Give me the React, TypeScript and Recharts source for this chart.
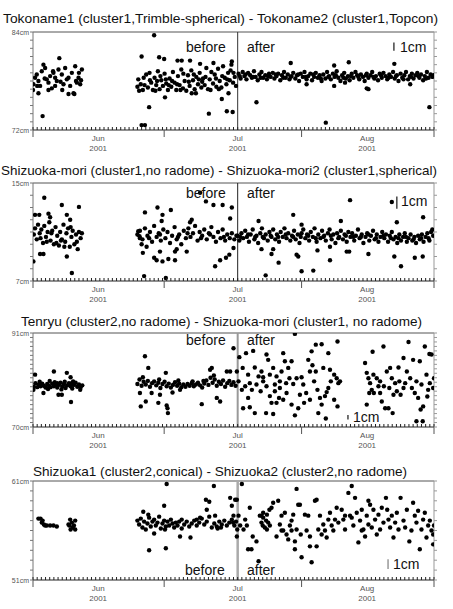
import { ReferenceLine, Scatter, ScatterChart, XAxis, YAxis } from "recharts";

type Pt = [number, number];

// x = days from the left edge of the plot, y = baseline length in cm
const MONTH_LABELS = ["Jun", "Jul", "Aug"];
const MONTH_POS = [15.6, 49, 80];
const YEAR_LABEL = "2001";
const MAJOR_TICKS = [0, 31.4, 64.3, 96];
const CHANGE_DAY = 49;

const TITLES = [
  "Tokoname1 (cluster1,Trimble-spherical) - Tokoname2 (cluster1,Topcon)",
  "Shizuoka-mori (cluster1,no radome) - Shizuoka-mori2 (cluster1,spherical)",
  "Tenryu (cluster2,no radome) - Shizuoka-mori (cluster1, no radome)",
  "Shizuoka1 (cluster2,conical) - Shizuoka2 (cluster2,no radome)",
];
const Y_RANGES: Pt[] = [[72, 84], [7, 15], [70, 91], [51, 61]];

const tokonameBefore: Pt[] = [
  [0.0,76.9],[0.1,77.6],[0.5,78.4],[0.9,78.8],[1.3,78.0],[1.7,77.4],[2.1,79.2],[2.5,80.0],[2.9,79.6],[3.3,78.2],[3.7,77.8],[4.1,78.6],[4.5,77.1],[4.9,79.0],[5.3,78.4],[5.7,78.0],[6.1,79.4],[6.3,80.8],[6.9,78.8],[7.3,77.6],[7.7,79.6],[8.1,78.2],[8.5,78.4],[8.9,77.4],[9.3,79.0],[9.7,76.5],[10.1,79.8],[10.5,77.8],[10.9,78.4],[11.3,77.6],[11.7,79.4],[1.3,76.5],[2.3,73.7],[8.5,76.4],[3.7,76.9],[5.3,77.4],[9.9,76.4],[7.0,76.9],[4.8,79.2],[10.3,78.0],[6.6,77.9],[2.8,78.3],[1.0,77.4],[11.0,79.0],[11.5,78.1],
  [26.0,81.0],[26.0,72.6],[26.8,72.6],[27.8,74.8],[29.0,83.6],[30.2,80.9],[31.4,80.7],[31.6,76.0],[34.6,80.5],[35.6,80.5],[37.6,80.5],[40.0,80.1],[42.1,74.0],[43.2,80.2],[45.2,75.8],[46.4,74.3],[47.6,80.4],[47.8,74.2],[46.8,76.5],[38.0,76.5],[39.0,76.5],
  [25.0,77.3],[25.4,76.8],[25.8,77.6],[26.3,76.9],[26.7,77.5],[27.1,78.8],[27.5,77.2],[27.9,79.0],[28.3,77.8],[28.7,76.9],[29.1,78.4],[29.5,77.5],[29.9,79.2],[30.3,77.0],[30.7,78.1],[31.1,77.4],[31.5,78.9],[31.9,77.7],[32.3,76.9],[32.7,78.3],[33.1,77.3],[33.5,79.1],[33.9,77.8],[34.3,76.9],[34.7,78.6],[35.1,77.5],[35.5,79.4],[35.9,77.1],[36.3,78.0],[36.7,76.8],[37.1,78.7],[37.5,77.4],[37.9,79.3],[38.3,78.1],[38.7,77.0],[39.1,78.5],[39.5,77.6],[39.9,79.0],[40.3,77.2],[40.7,78.3],[41.1,77.5],[41.5,79.6],[41.9,77.0],[42.3,78.2],[42.7,79.1],[43.1,77.7],[43.5,78.8],[43.9,77.3],[44.3,79.5],[44.7,78.0],[45.1,77.2],[45.5,79.8],[45.9,78.4],[46.3,77.6],[46.7,79.0],[47.1,78.1],[47.5,80.0],[47.9,77.8],[48.3,78.5],[48.6,77.4],
  [25.2,78.2],[26.5,78.4],[28.0,78.1],[29.3,76.8],[30.5,78.6],[31.8,78.2],[33.3,78.0],[34.5,77.6],[36.0,78.9],[37.3,77.9],[38.5,78.8],[39.7,78.2],[41.3,78.5],[42.5,76.9],[43.8,78.3],[45.3,78.6],[46.5,78.2],[48.0,79.0],[32.5,77.5],[35.3,76.9],[40.5,77.9],[44.5,77.0],[47.3,79.3],[29.7,78.0],
];

const tokonameAfter: Pt[] = [
  [49.2,78.9],[49.7,78.3],[50.2,79.1],[50.6,78.6],[51.1,78.2],[51.5,79.0],[52.0,78.7],[52.4,78.4],[52.9,79.2],[53.3,78.5],[53.8,78.1],[54.2,78.8],[54.7,79.1],[55.1,78.4],[55.6,78.7],[56.0,78.2],[56.5,78.9],[56.9,78.5],[57.4,79.0],[57.8,78.3],[58.3,78.6],[58.7,78.9],[59.2,78.1],[59.6,78.7],[60.1,79.1],[60.5,78.4],[61.0,78.8],[61.4,78.2],[61.9,78.6],[62.3,79.0],[62.8,78.3],[63.2,78.7],[63.7,78.0],[64.1,78.9],[64.6,78.5],[65.0,79.1],[65.5,78.2],[65.9,78.6],[66.4,78.9],[66.8,78.1],[67.3,78.5],[67.7,79.0],[68.2,78.4],[68.6,78.7],[69.1,78.0],[69.5,78.8],[70.0,78.3],[70.4,79.1],[70.9,78.6],[71.3,78.2],[71.8,78.9],[72.2,78.5],[72.7,79.2],[73.1,78.4],[73.6,78.0],[74.0,78.7],[74.5,79.0],[74.9,78.3],[75.4,78.6],[75.8,78.1],[76.3,78.9],[76.7,78.4],[77.2,79.1],[77.6,78.7],[78.1,78.2],[78.5,78.8],[79.0,78.5],[79.4,78.0],[79.9,78.9],[80.3,78.4],[80.8,78.7],[81.2,79.1],[81.7,78.3],[82.1,78.6],[82.6,78.1],[83.0,78.9],[83.5,78.4],[83.9,79.0],[84.4,78.6],[84.8,78.2],[85.3,78.8],[85.7,78.5],[86.2,79.1],[86.6,78.3],[87.1,78.7],[87.5,78.0],[88.0,78.9],[88.4,78.4],[88.9,78.7],[89.3,79.1],[89.8,78.2],[90.2,78.6],[90.7,78.9],[91.1,78.3],[91.6,78.7],[92.0,79.0],[92.5,78.4],[92.9,78.8],[93.4,78.1],[93.8,78.6],[94.3,79.1],[94.7,78.4],[95.2,78.8],[95.6,78.5],
  [49.5,78.6],[50.9,78.8],[52.7,78.5],[54.5,78.4],[56.3,78.6],[58.1,78.8],[59.9,78.4],[61.7,78.5],[63.5,78.8],[65.3,78.5],[67.1,78.8],[68.9,78.3],[70.7,78.5],[72.5,78.7],[74.3,78.4],[76.1,78.6],[77.9,78.5],[79.7,78.7],[81.5,78.5],[83.3,78.7],[85.1,78.4],[86.9,78.6],[88.7,78.2],[90.5,78.5],[92.3,78.6],[94.1,78.3],[95.9,78.7],
  [53.5,75.4],[61.7,80.2],[70.1,72.9],[75.6,80.3],[72.1,79.9],[79.9,77.1],[80.3,77.0],[86.5,80.1],[94.9,74.8],[65.5,77.6],[72.1,77.4],[74.7,77.8],[90.3,77.6],
];

const moriBefore: Pt[] = [
  [2.7,13.8],[0.1,8.6],[9.3,7.65],[6.9,13.2],[11.0,13.05],[1.7,9.2],[2.5,9.2],[8.1,9.0],[0.5,12.4],[1.5,12.4],[3.7,12.5],[4.1,12.2],[8.1,12.4],[8.9,12.0],
  [0.2,10.8],[0.5,11.3],[0.9,10.4],[1.2,11.6],[1.6,10.9],[2.0,11.2],[2.4,10.1],[2.7,11.5],[3.1,10.6],[3.5,11.0],[3.9,11.8],[4.2,10.3],[4.6,11.1],[5.0,10.0],[5.4,11.4],[5.8,10.7],[6.2,9.9],[6.5,11.0],[6.9,10.4],[7.3,11.6],[7.7,10.2],[8.0,10.9],[8.4,11.3],[8.8,9.8],[9.2,10.6],[9.5,11.1],[9.9,10.0],[10.3,10.8],[10.7,9.6],[11.0,11.0],[11.4,10.5],[11.7,10.9],[3.3,10.2],[5.6,10.1],[7.5,9.8],[1.8,10.5],[9.0,11.4],[10.5,10.2],[4.4,10.9],[6.7,10.3],
  [26.8,12.6],[26.6,7.4],[31.8,7.25],[29.8,13.0],[33.0,12.8],[31.0,12.4],[30.8,11.9],[29.0,8.9],[29.6,8.7],[31.0,8.6],[32.4,8.8],[34.0,8.7],[30.4,9.4],[36.8,9.4],[38.0,12.0],[37.6,11.8],[40.0,14.2],[41.4,13.5],[43.2,13.2],[43.6,8.2],[45.4,13.2],[44.8,8.7],[47.2,12.1],[47.6,13.0],[46.2,8.9],[47.0,9.15],[48.0,9.7],[25.2,11.06],[25.5,10.65],[26.0,10.0],[25.6,10.5],[26.3,9.3],[27.2,9.8],[34.0,9.4],[34.4,9.6],
  [25.0,10.8],[25.6,11.1],[26.2,10.4],[26.8,11.3],[27.4,10.7],[28.0,11.0],[28.5,10.2],[29.0,11.5],[29.6,10.6],[30.1,10.9],[30.6,10.3],[31.2,11.2],[31.7,10.5],[32.2,11.0],[32.8,10.1],[33.3,10.7],[33.9,11.4],[34.4,10.4],[35.0,10.8],[35.5,10.0],[36.1,11.1],[36.6,10.5],[37.2,11.3],[37.7,10.6],[38.3,10.9],[38.8,11.5],[39.4,10.3],[39.9,11.0],[40.5,10.7],[41.0,11.2],[41.6,10.4],[42.1,10.9],[42.7,11.4],[43.2,10.6],[43.8,10.2],[44.3,11.0],[44.9,10.5],[45.4,11.2],[46.0,10.3],[46.5,10.8],[47.1,10.5],[47.6,10.9],[48.2,10.4],[48.7,10.7],[27.8,10.5],[30.4,10.8],[34.7,10.6],[37.0,10.9],[40.2,10.5],[42.4,10.8],[45.7,10.6],
];

const moriAfter: Pt[] = [
  [49.0,10.7],[49.4,10.3],[49.9,10.9],[50.3,10.5],[50.8,11.1],[51.2,10.6],[51.7,10.2],[52.1,10.8],[52.6,11.2],[53.0,10.4],[53.5,10.7],[53.9,10.1],[54.4,10.9],[54.8,11.3],[55.3,10.5],[55.7,10.8],[56.2,10.3],[56.6,11.0],[57.1,10.6],[57.5,11.2],[58.0,10.4],[58.4,10.8],[58.9,10.2],[59.3,11.0],[59.8,10.6],[60.2,11.3],[60.7,10.5],[61.1,10.9],[61.6,10.3],[62.0,10.7],[62.5,11.1],[62.9,10.4],[63.4,10.8],[63.8,10.1],[64.3,10.9],[64.7,11.2],[65.2,10.5],[65.6,10.8],[66.1,10.3],[66.5,11.0],[67.0,10.6],[67.4,11.3],[67.9,10.2],[68.3,10.8],[68.8,10.5],[69.2,11.1],[69.7,10.7],[70.1,10.3],[70.6,10.9],[71.0,11.2],[71.5,10.4],[71.9,10.8],[72.4,10.1],[72.8,10.9],[73.3,10.6],[73.7,11.1],[74.2,10.4],[74.6,10.8],[75.1,10.2],[75.5,11.0],[76.0,10.6],[76.4,10.9],[76.9,10.3],[77.3,10.7],[77.8,11.2],[78.2,10.5],[78.7,10.8],[79.1,10.1],[79.6,10.6],[80.0,10.9],[80.5,10.3],[80.9,10.7],[81.4,11.1],[81.8,10.4],[82.3,10.8],[82.7,10.2],[83.2,10.6],[83.6,11.0],[84.1,10.5],[84.5,10.8],[85.0,10.2],[85.4,10.7],[85.9,11.0],[86.3,10.4],[86.8,10.6],[87.2,10.1],[87.7,10.8],[88.1,10.3],[88.6,10.6],[89.0,10.9],[89.5,10.2],[89.9,10.5],[90.4,10.8],[90.8,10.3],[91.3,10.6],[91.7,10.1],[92.2,10.7],[92.6,10.4],[93.1,10.8],[93.5,10.2],[94.0,10.6],[94.4,10.9],[94.9,10.3],[95.3,11.0],[95.8,10.7],
  [49.6,10.6],[51.5,10.8],[53.2,10.6],[55.0,10.6],[56.9,10.7],[58.7,10.6],[60.5,10.8],[62.3,10.6],[64.1,10.6],[65.9,10.7],[67.7,10.5],[69.5,10.6],[71.3,10.7],[73.1,10.5],[74.9,10.7],[76.7,10.6],[78.5,10.6],[80.3,10.8],[82.1,10.5],[83.9,10.7],[85.7,10.5],[87.5,10.5],[89.3,10.6],[91.1,10.4],[92.9,10.5],[94.7,10.5],[95.6,11.2],
  [75.9,13.6],[85.9,13.45],[93.4,12.2],[87.1,11.8],[54.0,11.9],[57.5,9.6],[57.1,9.2],[55.7,7.46],[58.8,8.5],[63.1,9.15],[63.5,9.0],[64.3,7.8],[64.3,11.6],[67.1,7.85],[68.1,9.5],[71.1,8.7],[71.1,9.8],[75.1,9.4],[75.7,9.4],[73.7,11.9],[80.3,9.2],[86.5,9.0],[88.1,8.2],[91.4,8.9],[93.3,9.0],[54.7,9.6],[62.3,12.4],
];

const tenryuBefore: Pt[] = [
  [5.0,82.4],[2.5,77.6],[6.1,77.2],[6.9,77.2],[8.1,82.1],[9.1,75.6],[9.0,81.1],[9.3,79.8],[11.3,78.3],[0.1,78.3],[0.5,81.7],[5.8,79.8],
  [0.2,79.0],[0.6,79.8],[1.0,78.9],[1.4,79.5],[1.8,79.1],[2.2,79.7],[2.6,79.2],[3.0,78.8],[3.4,79.6],[3.8,79.3],[4.2,78.9],[4.6,79.7],[5.0,79.1],[5.4,79.5],[5.8,78.8],[6.2,79.4],[6.6,79.9],[7.0,79.0],[7.4,79.6],[7.8,78.7],[8.2,79.3],[8.6,79.8],[9.0,79.1],[9.4,78.6],[9.8,79.4],[10.2,79.9],[10.6,79.0],[11.0,79.5],[11.4,78.8],[11.8,79.3],[1.6,80.1],[3.6,78.5],[5.2,80.0],[7.6,80.1],[9.6,80.2],[4.0,80.3],[6.8,78.4],
  [26.8,85.8],[27.6,83.2],[31.8,82.1],[25.8,74.6],[27.0,75.7],[30.0,75.4],[32.0,74.8],[32.2,74.2],[32.3,73.1],[40.4,75.1],[44.0,76.5],[44.8,75.7],[48.0,87.6],[42.4,82.8],[42.8,83.2],[47.2,82.4],[46.4,82.4],[25.6,77.6],[26.3,81.1],[28.4,77.6],[30.4,77.2],[33.4,77.7],[35.2,78.3],
  [25.0,79.6],[25.5,80.6],[26.0,79.2],[26.5,80.1],[27.0,79.5],[27.5,80.3],[28.0,79.0],[28.5,79.8],[29.0,80.2],[29.5,79.3],[30.0,79.9],[30.5,78.7],[31.0,79.6],[31.5,80.1],[32.0,79.1],[32.5,79.7],[33.0,78.8],[33.5,79.4],[34.0,80.0],[34.5,79.2],[35.0,79.7],[35.5,78.9],[36.0,79.5],[36.5,79.0],[37.0,79.6],[37.5,79.2],[38.0,79.8],[38.5,79.1],[39.0,79.5],[39.5,79.9],[40.0,79.3],[40.5,78.8],[41.0,79.7],[41.5,80.4],[42.0,79.4],[42.5,81.0],[43.0,79.9],[43.5,80.6],[44.0,79.2],[44.5,80.1],[45.0,79.6],[45.5,80.4],[46.0,79.0],[46.5,79.8],[47.0,80.3],[47.5,79.4],[48.0,80.0],[48.5,79.2],[30.2,80.6],[34.8,80.4],[38.2,80.2],[40.8,80.3],[43.3,81.5],
];

const tenryuAfter: Pt[] = [
  [49.4,85.6],[51.0,86.5],[52.7,87.0],[50.2,83.2],[48.8,82.4],[50.0,78.3],[50.8,79.1],[49.2,80.2],[51.5,76.5],[50.3,74.2],[51.9,74.4],[53.1,73.1],[51.5,81.7],[54.0,81.3],[53.1,83.3],[54.7,82.4],[55.1,80.2],[54.5,78.0],[55.9,86.2],[56.3,85.0],[55.8,73.1],[56.7,76.9],[57.1,75.4],[57.5,72.9],[57.5,83.2],[58.3,81.3],[57.9,79.5],[59.1,78.7],[59.9,86.5],[59.5,82.4],[60.3,84.7],[61.1,83.2],[61.9,84.7],[61.4,80.9],[60.7,77.6],[59.9,76.1],[58.9,76.5],[58.3,75.4],[61.9,75.0],[62.7,90.8],[63.5,74.2],[62.7,72.6],[63.9,77.2],[63.1,80.9],[64.7,79.5],[64.9,75.4],[65.9,85.0],[66.3,82.4],[66.7,86.9],[67.7,88.4],[69.1,88.5],[70.7,86.5],[67.3,80.2],[68.1,78.3],[68.7,76.5],[69.1,75.0],[69.9,76.9],[70.3,77.8],[70.7,78.7],[71.3,80.2],[68.3,73.1],[70.1,71.9],[72.9,89.1],[72.1,81.7],[72.7,80.9],[73.1,79.8],[73.5,80.2],[72.1,76.1],[72.9,74.6],[67.7,82.4],[66.9,83.8],[69.5,83.2],[71.1,82.8],[56.7,81.7],[55.1,81.1],[51.9,79.8],[53.5,79.5],[52.4,78.3],[55.9,79.1],[57.9,78.0],[59.1,80.2],[60.6,79.8],[62.3,79.6],[64.3,81.1],[65.4,77.6],[66.3,76.1],
  [79.9,75.0],[79.5,84.3],[81.3,86.8],[79.9,82.1],[80.3,80.9],[80.7,79.8],[81.1,78.3],[81.6,77.6],[82.3,80.9],[82.7,79.1],[83.1,80.2],[83.5,75.7],[83.9,88.0],[84.3,74.2],[85.1,74.2],[86.1,73.1],[84.7,82.4],[85.5,83.2],[85.9,80.9],[85.3,78.7],[86.7,79.8],[87.5,83.3],[87.1,78.0],[88.0,77.2],[88.7,85.4],[89.1,79.8],[89.9,89.0],[90.3,80.9],[90.7,78.7],[91.0,85.0],[91.4,77.6],[91.8,80.2],[92.2,76.5],[91.8,71.3],[92.6,84.7],[92.8,73.9],[93.3,71.3],[93.4,74.6],[93.8,88.0],[94.2,81.7],[94.4,76.8],[94.9,86.3],[95.4,86.2],[95.0,79.8],[95.8,78.7],[96.0,80.9],[81.5,81.7],[84.0,79.1],[87.7,80.2],[89.5,82.4],[93.0,79.5],[94.6,78.3],[80.5,77.6],[83.1,77.6],[86.3,77.2],[88.7,78.7],
];

const shizuokaBefore: Pt[] = [
  [1.3,57.2],[1.8,57.2],[2.3,57.0],[2.6,56.6],[3.3,56.5],[4.1,56.5],[4.9,56.5],[5.7,56.4],[2.1,56.8],[2.9,56.5],
  [8.9,57.1],[9.3,56.8],[8.7,56.5],[9.5,56.3],[10.1,57.0],[9.0,56.1],[10.1,56.1],[8.5,56.6],[9.8,56.5],
  [26.4,57.9],[27.6,57.6],[27.8,54.0],[31.8,54.2],[32.0,60.7],[31.4,58.5],[29.0,55.7],[31.6,56.1],[35.2,55.4],[37.7,55.3],[35.6,57.1],[39.2,57.1],[40.0,57.3],[41.4,59.1],[42.2,58.9],[41.6,58.1],[43.3,60.5],[43.6,57.5],[47.2,59.3],[47.6,58.5],[48.0,57.5],[48.4,59.1],[48.9,56.1],[48.8,55.4],
  [25.0,57.0],[25.4,56.6],[25.8,57.2],[26.2,56.3],[26.6,56.9],[27.0,56.1],[27.4,56.7],[27.8,57.3],[28.2,56.4],[28.6,56.9],[29.0,57.1],[29.4,56.5],[29.8,56.8],[30.2,57.4],[30.6,56.2],[31.0,56.7],[31.4,57.0],[31.8,56.4],[32.2,56.9],[32.6,56.5],[33.0,57.1],[33.4,56.7],[33.8,56.3],[34.2,56.8],[34.6,56.5],[35.0,56.9],[35.6,56.2],[36.2,56.6],[36.8,56.9],[37.4,56.4],[38.0,56.7],[38.6,57.0],[39.2,56.5],[39.8,56.8],[40.4,57.2],[41.0,56.6],[41.6,56.9],[42.2,57.4],[42.8,56.3],[43.4,56.7],[44.0,56.4],[44.6,56.9],[45.2,56.6],[45.8,57.0],[46.4,56.5],[47.0,56.8],[47.6,57.1],[48.2,56.5],[48.6,56.9],[44.2,56.2],[45.0,56.3],
];

const shizuokaAfter: Pt[] = [
  [48.8,59.1],[50.0,60.7],[47.9,56.8],[49.2,57.5],[49.6,56.5],[50.4,56.1],[50.8,57.1],[51.2,56.5],[51.5,54.1],[52.3,54.1],[51.9,58.3],[52.6,55.4],[53.5,54.9],[54.0,52.9],[54.3,57.5],[54.7,56.8],[55.0,56.5],[55.1,57.3],[55.5,56.3],[56.0,57.6],[56.3,56.8],[56.7,56.5],[57.1,58.3],[57.5,58.8],[58.3,55.4],[58.7,59.0],[59.1,56.6],[59.5,57.5],[59.9,56.0],[60.3,57.8],[60.7,55.6],[61.1,55.1],[61.5,56.5],[61.9,57.0],[62.3,57.6],[62.7,54.9],[62.7,54.1],[63.1,60.2],[63.5,58.6],[63.9,58.6],[64.1,55.6],[64.3,53.3],[65.1,57.6],[65.5,56.0],[65.9,57.5],[66.3,54.4],[66.7,52.8],[66.3,55.4],[67.5,59.0],[67.9,59.1],[67.9,54.4],[68.3,56.1],[68.7,57.5],[69.1,55.6],[69.5,56.6],[70.3,55.3],[70.7,57.1],[71.1,57.8],[71.5,56.5],[71.9,56.0],[72.3,57.1],[72.7,58.3],[73.1,56.8],[73.9,58.1],[74.3,57.1],[74.7,56.1],[75.5,59.8],[75.9,57.5],[76.3,60.5],[76.7,56.5],[77.1,59.3],[77.5,57.8],[77.9,54.8],[78.3,57.0],[78.7,58.1],[79.1,56.1],[79.5,55.4],[79.9,57.5],[80.3,59.0],[80.7,58.6],[81.1,56.3],[81.5,58.1],[81.9,57.1],[82.3,55.6],[82.7,57.6],[83.1,56.1],[83.5,58.3],[83.9,56.8],[84.5,59.3],[84.8,58.1],[85.1,57.1],[85.5,56.3],[85.9,57.5],[86.3,55.3],[86.7,56.8],[87.1,57.8],[87.5,56.1],[88.0,59.3],[88.7,57.0],[89.1,56.3],[89.5,58.1],[90.1,54.9],[90.6,56.0],[91.0,58.8],[91.4,57.5],[91.8,56.8],[92.2,58.0],[92.6,54.1],[93.0,56.1],[93.4,57.1],[93.8,57.8],[94.2,55.3],[94.6,56.5],[95.0,57.0],[95.4,56.0],[95.8,55.6],[95.8,54.6],[96.0,56.5],
  [80.3,56.6],[78.7,56.0],[76.3,57.3],[74.7,57.5],[69.9,56.0],[63.1,56.1],[61.9,56.0],[59.5,56.0],[56.0,56.1],[54.7,57.5],[55.1,57.8],[55.8,57.0],[56.6,58.1],
];

const FONT = "'Liberation Sans', Arial, Helvetica, sans-serif";
const DAY_TICKS = Array.from({ length: 97 }, (_, i) => i).concat([15.6, 31.4, 64.3]);

interface Panel {
  before: Pt[];
  after: Pt[];
  range: Pt;
  top: number;
  height: number;
  lineColor: string;
  lineWidth: number;
  bar: { x: number; y0: number; color: string };
}

const PANELS: Panel[] = [
  { before: tokonameBefore, after: tokonameAfter, range: Y_RANGES[0], top: 32, height: 98, lineColor: "#333", lineWidth: 1, bar: { x: 86.4, y0: 81.7, color: "#444" } },
  { before: moriBefore, after: moriAfter, range: Y_RANGES[1], top: 183, height: 98, lineColor: "#222", lineWidth: 1, bar: { x: 87.1, y0: 12.9, color: "#444" } },
  { before: tenryuBefore, after: tenryuAfter, range: Y_RANGES[2], top: 333, height: 94, lineColor: "#999", lineWidth: 2, bar: { x: 75.4, y0: 71.7, color: "#444" } },
  { before: shizuokaBefore, after: shizuokaAfter, range: Y_RANGES[3], top: 481, height: 99, lineColor: "#aaa", lineWidth: 2.5, bar: { x: 85.0, y0: 52.1, color: "#999" } },
];

const TITLE_POS = [
  { x: 3, y: 23, w: 435 },
  { x: 1, y: 175, w: 436 },
  { x: 21, y: 326, w: 401 },
  { x: 33, y: 476, w: 374 },
];
const NOTE_POS = [
  { before: [186, 52], after: [247, 52], scale: [400, 52] },
  { before: [186, 198], after: [247, 198], scale: [401, 206] },
  { before: [186, 345], after: [247, 345], scale: [353, 422] },
  { before: [185, 575], after: [247, 575], scale: [393, 569] },
];

const Dot = (props: any) => <circle cx={props.cx} cy={props.cy} r={2.2} fill="#000" />;

function XTick({ x, y, payload }: any) {
  const v = payload.value;
  const mi = MONTH_POS.indexOf(v);
  return (
    <g>
      {Number.isInteger(v) && <line x1={x} x2={x} y1={y} y2={y - 3} stroke="#222" />}
      {MAJOR_TICKS.includes(v) && <line x1={x} x2={x} y1={y} y2={y + 7} stroke="#555" />}
      {mi >= 0 && (
        <>
          <text x={x} y={y + 11} textAnchor="middle" fontSize={8} fill="#555" fontFamily={FONT}>
            {MONTH_LABELS[mi]}
          </text>
          <text x={x} y={y + 21} textAnchor="middle" fontSize={8} fill="#555" fontFamily={FONT}>
            {YEAR_LABEL}
          </text>
        </>
      )}
    </g>
  );
}

function LeftTick({ x, y, payload, range }: any) {
  const v = payload.value;
  const edge = v === range[0] || v === range[1];
  return (
    <g>
      <line x1={x - 3} x2={x} y1={y} y2={y} stroke="#777" />
      {edge && (
        <text x={x - 4} y={y + 2.5} textAnchor="end" fontSize={7} fill="#555" fontFamily={FONT}>
          {v}cm
        </text>
      )}
    </g>
  );
}

function RightTick({ x, y }: any) {
  return <line x1={x} x2={x + 3} y1={y} y2={y} stroke="#999" />;
}

function PanelChart({ p }: { p: Panel }) {
  const [min, max] = p.range;
  const yTicks = Array.from({ length: max - min + 1 }, (_, i) => min + i);
  const pts = [...p.before, ...p.after].map(([x, y]) => ({ x, y }));
  return (
    <div style={{ position: "absolute", left: 0, top: p.top - 5 }}>
      <ScatterChart width={453} height={p.height + 29} margin={{ top: 5, right: 0, bottom: 0, left: 0 }}>
        <XAxis
          type="number"
          dataKey="x"
          domain={[0, 96]}
          ticks={DAY_TICKS}
          interval={0}
          tickSize={0}
          tickMargin={0}
          tickLine={false}
          tick={(t: any) => <XTick {...t} />}
          axisLine={{ stroke: "#222" }}
          height={24}
          allowDataOverflow
        />
        <YAxis
          type="number"
          dataKey="y"
          domain={[min, max]}
          ticks={yTicks}
          interval={0}
          tickSize={0}
          tickMargin={0}
          tickLine={false}
          tick={(t: any) => <LeftTick {...t} range={p.range} />}
          axisLine={{ stroke: "#777" }}
          width={33}
          allowDataOverflow
        />
        <YAxis
          yAxisId="r"
          orientation="right"
          type="number"
          domain={[min, max]}
          ticks={yTicks}
          interval={0}
          tickSize={0}
          tickMargin={0}
          tickLine={false}
          tick={(t: any) => <RightTick {...t} />}
          axisLine={{ stroke: "#999" }}
          width={19}
          allowDataOverflow
        />
        <ReferenceLine y={max} stroke="#555" />
        <ReferenceLine x={CHANGE_DAY} stroke={p.lineColor} strokeWidth={p.lineWidth} />
        <ReferenceLine
          segment={[{ x: p.bar.x, y: p.bar.y0 }, { x: p.bar.x, y: p.bar.y0 + 1 }]}
          stroke={p.bar.color}
          strokeWidth={1.5}
        />
        <Scatter data={pts} isAnimationActive={false} shape={Dot} />
      </ScatterChart>
    </div>
  );
}

export default function App() {
  return (
    <div style={{ position: "absolute", left: 0, top: 0, width: 453, height: 609, background: "#fff" }}>
      {PANELS.map((p, i) => (
        <PanelChart key={i} p={p} />
      ))}
      <svg width={453} height={609} style={{ position: "absolute", left: 0, top: 0, pointerEvents: "none" }}>
        {TITLES.map((t, i) => (
          <text
            key={"t" + i}
            x={TITLE_POS[i].x}
            y={TITLE_POS[i].y}
            textLength={TITLE_POS[i].w}
            lengthAdjust="spacingAndGlyphs"
            fontSize={13}
            fill="#111"
            fontFamily={FONT}
          >
            {t}
          </text>
        ))}
        {NOTE_POS.map((n, i) => (
          <g key={"n" + i} fontSize={14} fill="#111" fontFamily={FONT}>
            <text x={n.before[0]} y={n.before[1]}>before</text>
            <text x={n.after[0]} y={n.after[1]}>after</text>
            <text x={n.scale[0]} y={n.scale[1]}>1cm</text>
          </g>
        ))}
      </svg>
    </div>
  );
}
